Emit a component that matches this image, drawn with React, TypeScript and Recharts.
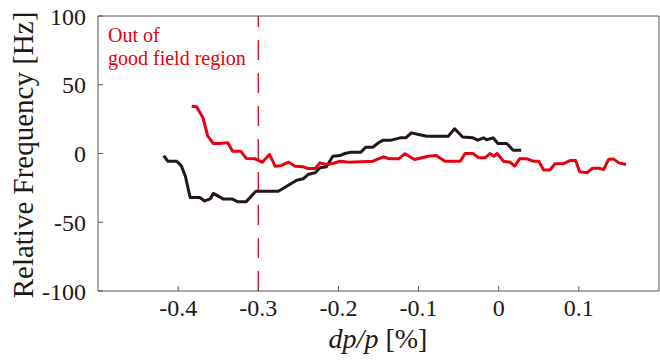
import { LineChart, Line, XAxis, YAxis, ReferenceLine } from 'recharts';

const RED = '#e60012';
const BLACK = '#231815';
const FRAME = '#595757';
const FONT = "'Liberation Serif', 'DejaVu Serif', serif";

const X_TICKS = [-0.4, -0.3, -0.2, -0.1, 0, 0.1];
const Y_TICKS = [-100, -50, 0, 50, 100];
const BOUNDARY = -0.3;

// black trace
const blackDpp = [
  -0.418, -0.413, -0.402, -0.396, -0.391, -0.385, -0.373, -0.367, -0.36, -0.356,
  -0.344, -0.333, -0.326, -0.315, -0.303, -0.275, -0.265, -0.252, -0.244, -0.238,
  -0.229, -0.223, -0.215, -0.207, -0.198, -0.192, -0.184, -0.172, -0.166, -0.157,
  -0.15, -0.144, -0.134, -0.123, -0.116, -0.109, -0.1, -0.09, -0.063, -0.055,
  -0.045, -0.032, -0.026, -0.019, -0.015, -0.007, -0.001, 0.01, 0.018, 0.028,
];
const blackFreq = [
  -1.5, -5.6, -5.6, -9, -16.5, -32, -32, -34.5, -33, -29,
  -33, -33, -35, -35, -27.4, -27.4, -24, -19.4, -18.4, -15.3,
  -14, -10.4, -9.7, -2, -1.5, 0, 1, 1, 4.6, 4.6,
  7.8, 9.7, 9.7, 11.4, 11.4, 15, 13.8, 12.6, 12.6, 18,
  12, 11.4, 9.7, 11.4, 10, 11.4, 7.3, 7.3, 2.4, 2.4,
];

// red trace
const redDpp = [
  -0.383, -0.377, -0.369, -0.363, -0.356, -0.348, -0.338, -0.332, -0.322, -0.315,
  -0.304, -0.295, -0.286, -0.279, -0.271, -0.262, -0.254, -0.244, -0.238, -0.229,
  -0.223, -0.215, -0.207, -0.198, -0.186, -0.157, -0.144, -0.136, -0.125, -0.117,
  -0.105, -0.096, -0.088, -0.078, -0.067, -0.048, -0.042, -0.032, -0.025, -0.017,
  -0.011, -0.006, -0.002, 0.006, 0.014, 0.02, 0.026, 0.035, 0.043, 0.05,
  0.056, 0.064, 0.07, 0.08, 0.089, 0.096, 0.101, 0.11, 0.117, 0.125,
  0.131, 0.137, 0.143, 0.15, 0.155, 0.159,
];
const redFreq = [
  34.4, 34, 26, 12.6, 7.3, 7.3, 7.8, 1.7, 1.7, -3.6,
  -3.9, -6.3, -0.7, -9.2, -8.7, -6.3, -9.2, -9.7, -10.9, -10.9,
  -6.8, -8, -7.3, -5.6, -6.3, -5.6, -2.4, -3.9, -3.9, -0.2,
  -4.4, -3.1, -2, -1.5, -5.6, -5.6, 0, 0, -3.1, -3.1,
  0, -2, 0, -5.6, -6.3, -9.2, -3.9, -3.9, -5.6, -5.6,
  -12, -12, -7.5, -7.5, -5.1, -5.1, -13.3, -14, -10.7, -10.7,
  -11.6, -4.4, -3.9, -6.8, -7.5, -8,
];

const blackData = blackDpp.map((x, i) => ({ x, y: blackFreq[i] }));
const redData = redDpp.map((x, i) => ({ x, y: redFreq[i] }));

const tickStyle = { fill: BLACK, fontSize: 24, style: { fontFamily: FONT } };

function AxisTitles() {
  return (
    <g style={{ fontFamily: FONT }} fill={BLACK}>
      <text x={0} y={0} transform="translate(33,155) rotate(-90)" textAnchor="middle" fontSize={29}>
        Relative Frequency [Hz]
      </text>
      <text x={378} y={348} textAnchor="middle" fontSize={28}>
        <tspan fontStyle="italic">dp/p</tspan> [%]
      </text>
    </g>
  );
}

function Note() {
  return (
    <g style={{ fontFamily: FONT }} fill={RED} fontSize={20}>
      <text x={108} y={42}>Out of</text>
      <text x={108} y={65}>good field region</text>
    </g>
  );
}

export default function App() {
  return (
    <div style={{ position: 'absolute', left: 0, top: 0, background: '#fff', fontFamily: FONT }}>
      <LineChart width={660} height={363} margin={{ top: 0, right: 0, bottom: 0, left: 0 }}>
        <XAxis
          type="number"
          dataKey="x"
          domain={[-0.5, 0.2]}
          ticks={X_TICKS}
          allowDataOverflow
          height={72}
          stroke={FRAME}
          tickSize={-5}
          tickMargin={13}
          tick={tickStyle}
          tickFormatter={(v) => String(v)}
          label={{ content: () => <AxisTitles /> }}
        />
        <XAxis
          xAxisId="top"
          orientation="top"
          type="number"
          dataKey="x"
          domain={[-0.5, 0.2]}
          ticks={X_TICKS}
          allowDataOverflow
          height={16}
          stroke={FRAME}
          tickSize={-5}
          tick={false}
        />
        <YAxis
          type="number"
          domain={[-100, 100]}
          ticks={Y_TICKS}
          width={98}
          stroke={FRAME}
          tickSize={-5}
          tickMargin={17}
          tick={tickStyle}
        />
        <YAxis
          yAxisId="right"
          orientation="right"
          type="number"
          domain={[-100, 100]}
          ticks={Y_TICKS}
          width={1}
          stroke={FRAME}
          tickSize={-5}
          tick={false}
        />
        <ReferenceLine
          x={BOUNDARY}
          stroke={RED}
          strokeWidth={1.3}
          strokeDasharray="20 13"
          label={{ content: () => <Note /> }}
        />
        <Line
          data={blackData}
          dataKey="y"
          stroke={BLACK}
          strokeWidth={3}
          dot={false}
          strokeLinejoin="round"
          isAnimationActive={false}
        />
        <Line
          data={redData}
          dataKey="y"
          stroke={RED}
          strokeWidth={3}
          dot={false}
          strokeLinejoin="round"
          isAnimationActive={false}
        />
      </LineChart>
    </div>
  );
}
